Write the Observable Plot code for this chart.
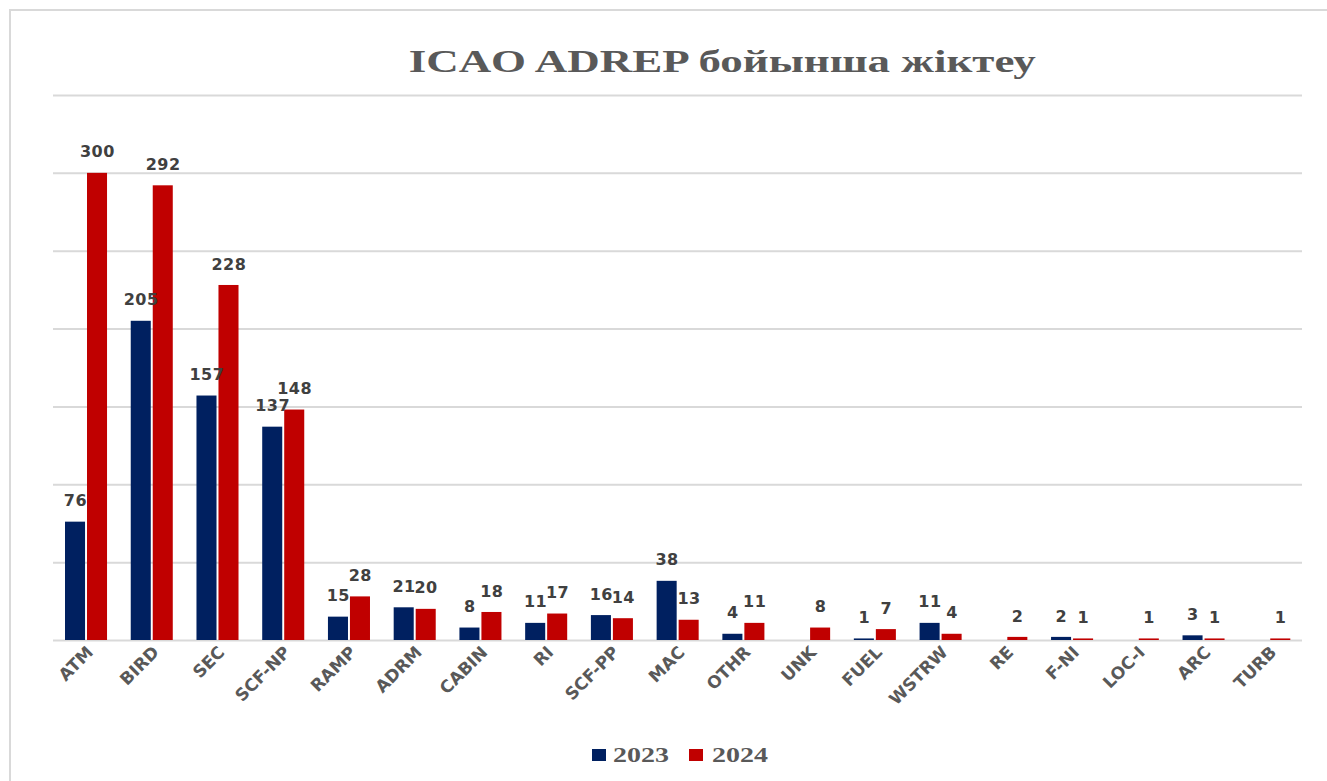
<!DOCTYPE html>
<html>
<head>
<meta charset="utf-8">
<script src="https://cdn.jsdelivr.net/npm/d3@7"></script>
<script src="https://cdn.jsdelivr.net/npm/@observablehq/plot@0.6"></script>
<style>
  html, body { margin: 0; padding: 0; background: #fff; }
  #wrap { position: relative; width: 1327px; height: 781px; overflow: hidden; background: #fff; }
  #frame { position: absolute; left: 9px; top: 9px; width: 1400px; height: 900px;
           border-left: 2px solid #d9d9d9; border-top: 2px solid #d9d9d9; }
  #title { position: absolute; left: 0; top: 42px; width: 1444px; text-align: center;
           font-family: "Liberation Serif", serif; font-weight: bold; font-size: 31px;
           line-height: 40px; color: #595959; }
  #title span { display: inline-block; transform: scaleX(1.45); transform-origin: center; }
  #chart { position: absolute; left: 0; top: 85px; }
  .lg-sw { position: absolute; top: 749px; width: 14px; height: 12px; }
  .lg-tx { position: absolute; top: 741px; font-family: "Liberation Serif", serif; font-weight: bold;
           font-size: 21px; line-height: 28px; color: #595959; transform: scaleX(1.33); transform-origin: left center; }
</style>
</head>
<body>
<div id="wrap">
  <div id="frame"></div>
  <div id="title"><span>ICAO ADREP бойынша жіктеу</span></div>
  <div id="chart"></div>
  <div id="legend"></div>
</div>
<script>
const categories = ["ATM","BIRD","SEC","SCF-NP","RAMP","ADRM","CABIN","RI","SCF-PP","MAC","OTHR","UNK","FUEL","WSTRW","RE","F-NI","LOC-I","ARC","TURB"];
const values2023 = [76,205,157,137,15,21,8,11,16,38,4,null,1,11,null,2,null,3,null];
const values2024 = [300,292,228,148,28,20,18,17,14,13,11,8,7,4,2,1,1,1,1];
const years = ["2023","2024"];
const colors = ["#002060","#C00000"];
const yTicks = [0,50,100,150,200,250,300,350];

const d2023 = categories.map((c,i) => ({cat: c, value: values2023[i]})).filter(d => d.value != null);
const d2024 = categories.map((c,i) => ({cat: c, value: values2024[i]})).filter(d => d.value != null);

const labelStyle = {fill: "#404040", fontSize: 16, fontWeight: "bold", lineAnchor: "middle", dy: -21};

const svg = Plot.plot({
  width: 1327,
  height: 635,
  marginLeft: 53,
  marginRight: 25,
  marginTop: 10,
  marginBottom: 80,
  x: {domain: categories, padding: 0, round: false, label: null},
  y: {domain: [0, 350], axis: null},
  style: {fontFamily: "'DejaVu Sans', sans-serif", background: "transparent"},
  marks: [
    Plot.gridY(yTicks, {stroke: "#d9d9d9", strokeOpacity: 1, strokeWidth: 2}),
    Plot.barY(d2023, {x: "cat", y: "value", fill: colors[0], insetLeft: 12, insetRight: 33.7}),
    Plot.barY(d2024, {x: "cat", y: "value", fill: colors[1], insetLeft: 34, insetRight: 11.7}),
    Plot.text(d2023, {x: "cat", y: "value", text: "value", dx: -11, ...labelStyle}),
    Plot.text(d2024, {x: "cat", y: "value", text: "value", dx: 11, ...labelStyle}),
    Plot.axisX({tickSize: 0, tickPadding: 9, dx: 4, tickRotate: -45, fontSize: 17, fontWeight: "bold", color: "#595959", label: null})
  ]
});
d3.select(svg).selectAll("g[aria-label='text'] text").attr("letter-spacing", "0.5");
document.getElementById("chart").appendChild(svg);

const legendPos = [{sw: 592, tx: 613}, {sw: 689, tx: 712}];
const legend = d3.select("#legend");
years.forEach((y, i) => {
  legend.append("div").attr("class", "lg-sw").style("left", legendPos[i].sw + "px").style("background", colors[i]);
  legend.append("div").attr("class", "lg-tx").style("left", legendPos[i].tx + "px").text(y);
});
</script>
</body>
</html>
